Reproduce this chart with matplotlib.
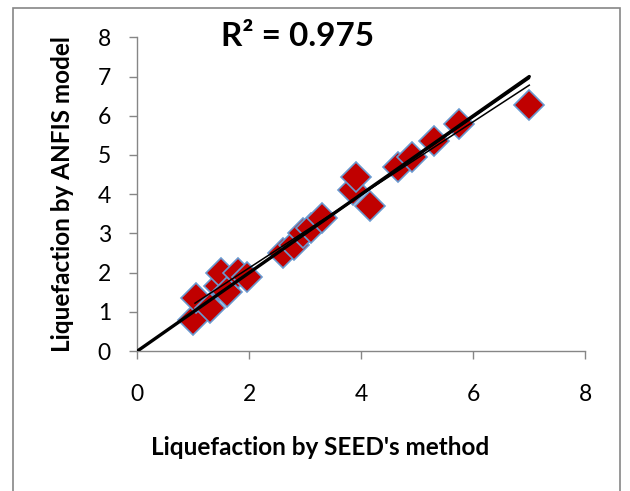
import matplotlib
matplotlib.use("Agg")
import matplotlib.pyplot as plt
from matplotlib.patches import Rectangle

plt.rcParams['font.family'] = ['Lato', 'DejaVu Sans']

# ---------------------------
# Data
# ---------------------------
seed_x = [1.0, 1.05, 1.3, 1.45, 1.5, 1.6, 1.8, 1.95, 2.6, 2.8, 2.95, 3.1, 3.3,
          3.85, 3.9, 4.15, 4.65, 4.9, 5.3, 5.75, 7.0]
anfis_y = [0.8, 1.35, 1.1, 1.65, 2.0, 1.5, 2.0, 1.9, 2.5, 2.7, 3.0, 3.15, 3.4,
           4.1, 4.45, 3.7, 4.7, 4.95, 5.35, 5.8, 6.28]

# 1:1 line and the two thin trend lines (end points)
line_11_x = [0, 7]
line_11_y = [0, 7]
trend_a_x = [1.03, 7.0]
trend_a_y = [1.22, 6.78]
trend_b_x = [1.03, 7.0]
trend_b_y = [1.04, 6.95]

r2_text = "R² = 0.975"
xticks = [0, 2, 4, 6, 8]
yticks = [0, 1, 2, 3, 4, 5, 6, 7, 8]

fig = plt.figure(figsize=(6.3, 4.91), dpi=100)
ax = fig.add_axes([0.218, 0.285, 0.711, 0.639])

grey = '#868686'

ax.plot(line_11_x, line_11_y, color='black', lw=2.4, solid_capstyle='round', zorder=3)
ax.plot(trend_a_x, trend_a_y, color='black', lw=1.1, zorder=3)
ax.plot(trend_b_x, trend_b_y, color='black', lw=1.1, zorder=3)
ax.plot(seed_x, anfis_y, linestyle='none', marker='D', markersize=15.5,
        markerfacecolor='#C00000', markeredgecolor='#6A9AD0', markeredgewidth=1.2,
        zorder=2)

ax.set_xlim(0, 8)
ax.set_ylim(0, 8)
ax.set_xticks(xticks)
ax.set_yticks(yticks)
for side in ['top', 'right']:
    ax.spines[side].set_visible(False)
for side in ['left', 'bottom']:
    ax.spines[side].set_color(grey)
    ax.spines[side].set_linewidth(1.0)
ax.tick_params(axis='both', colors=grey, length=6, width=1.0, direction='out',
               labelcolor='black', labelsize=16.5)
ax.tick_params(axis='x', pad=18)
ax.tick_params(axis='y', pad=13)

ax.set_xlabel("Liquefaction by SEED's method", fontsize=17.5, fontweight='bold', va='center')
ax.set_ylabel("Liquefaction by ANFIS model", fontsize=17.5, fontweight='bold', va='center')
ax.xaxis.set_label_coords(0.408, -0.306)
ax.yaxis.set_label_coords(-0.166, 0.5)

fig.text(0.473, 0.926, r2_text, fontsize=24, fontweight='bold', ha='center', va='center')

# chart area border
fig.patches.append(Rectangle((13 / 630, -0.05), 607 / 630, 1.034, transform=fig.transFigure,
                             fill=False, edgecolor=grey, lw=1.2))

fig.savefig("out.png", dpi=100)
